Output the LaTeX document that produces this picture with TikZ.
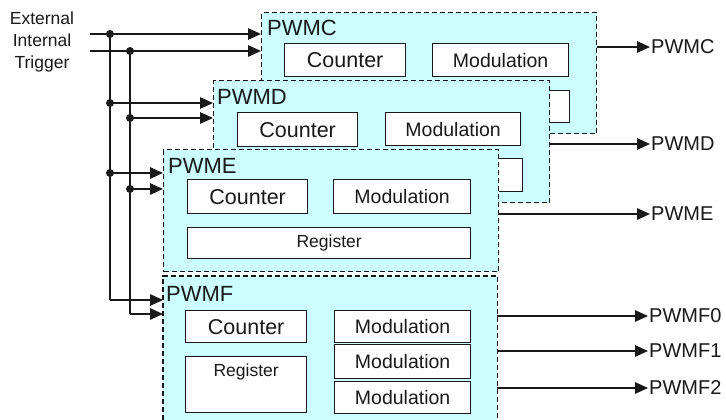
\documentclass[tikz,border=0pt]{standalone}
\usepackage{fontspec}
\setmainfont{Liberation Sans}
\usetikzlibrary{arrows.meta,calc}
\definecolor{panelfill}{RGB}{204,255,255}
\definecolor{ink}{RGB}{25,25,25}
\begin{document}
\begin{tikzpicture}[x=1pt,y=-1pt,
  panel/.style={draw=ink, dash pattern=on 5pt off 3pt, line width=1.3pt, fill=panelfill, inner sep=0pt, anchor=north west},
  dashline/.style={draw=ink, dash pattern=on 5pt off 3pt, line width=1.3pt},
  blk/.style={draw=ink, line width=1.3pt, fill=white, inner sep=0pt, anchor=north west, text=ink},
  ttl/.style={anchor=base west, inner sep=0pt, text=ink, font=\fontsize{22}{24}\selectfont},
  cnt/.style={font=\fontsize{21.5}{24}\selectfont},
  mod/.style={font=\fontsize{19.5}{22}\selectfont},
  reg/.style={font=\fontsize{17.5}{20}\selectfont},
  olbl/.style={anchor=west, inner sep=1pt, text=ink, font=\fontsize{20}{24}\selectfont},
  wire/.style={draw=ink, line width=1.4pt},
  arr/.style={wire, -{Triangle[length=13pt,width=11.5pt]}},
  dot/.style={circle, fill=ink, inner sep=0pt, minimum size=8pt}
]
\useasboundingbox (0,0) rectangle (726,420);

% ---- PWMC ----
\node[panel, minimum width=335pt, minimum height=121pt] (pC) at (261,12) {};
\node[ttl] (tC) at (267,36) {PWMC};
\node[blk, cnt, minimum width=121pt, minimum height=33pt] (cC) at (284,43) {Counter};
\node[blk, mod, minimum width=136pt, minimum height=33pt] (mC) at (432,43) {Modulation};
\node[blk, minimum width=283pt, minimum height=32pt] (rC) at (286,90) {};

% ---- PWMD ----
\node[panel, minimum width=336pt, minimum height=122pt] (pD) at (213,80) {};
\node[ttl] (tD) at (217,105) {PWMD};
\node[blk, cnt, minimum width=120pt, minimum height=34pt] (cD) at (237,112) {Counter};
\node[blk, mod, minimum width=135pt, minimum height=33pt] (mD) at (385,112) {Modulation};
\node[blk, minimum width=285pt, minimum height=33pt] (rD) at (237,158) {};

% ---- PWME ----
\node[panel, minimum width=335pt, minimum height=122pt] (pE) at (163,149) {};
\node[ttl] (tE) at (168,173) {PWME};
\node[blk, cnt, minimum width=120pt, minimum height=34pt] (cE) at (187,179) {Counter};
\node[blk, mod, minimum width=137pt, minimum height=34pt] (mE) at (333,179) {Modulation};
\node[blk, reg, minimum width=283pt, minimum height=31pt] (rE) at (187,227) {Register};

% ---- PWMF ----
\node[fill=panelfill, inner sep=0pt, anchor=north west, minimum width=334pt, minimum height=144pt] (pF) at (163,276) {};
\draw[dashline] (pF.south west) -- (pF.north west) -- (pF.north east) -- (pF.south east);
\node[ttl] (tF) at (166,301) {PWMF};
\node[blk, cnt, minimum width=121pt, minimum height=32pt] (cF) at (185,310) {Counter};
\node[blk, minimum width=121pt, minimum height=56pt] (rF) at (185,356) {};
\node[reg, text=ink, inner sep=0pt] (rFt) at ($(rF.north)+(0,16)$) {Register};
\node[blk, mod, minimum width=136pt, minimum height=32pt] (m0) at (334,310) {Modulation};
\node[blk, mod, minimum width=136pt, minimum height=34pt] (m1) at (334,344) {Modulation};
\node[blk, mod, minimum width=136pt, minimum height=32pt] (m2) at (334,381) {Modulation};

% ---- trigger inputs ----
\node[align=center, text=ink, inner sep=0pt, font=\fontsize{17.5}{22}\selectfont] (trig) at (42,42) {External\\Internal\\Trigger};
\coordinate (i1) at (90,34);
\coordinate (i2) at (90,51);
\coordinate (jC1) at (110,34);  \coordinate (jC2) at (130,51);
\coordinate (jD1) at (110,103); \coordinate (jD2) at (130,118);
\coordinate (jE1) at (110,173); \coordinate (jE2) at (130,189);
\coordinate (jF1) at (110,300); \coordinate (jF2) at (130,314);

\draw[wire] (i1) -- (jC1);
\draw[wire] (i2) -- (jC2);
\draw[wire] (jC1) -- (jF1);
\draw[wire] (jC2) -- (jF2);
\draw[arr] (jC1) -- (jC1 -| pC.west);
\draw[arr] (jC2) -- (jC2 -| pC.west);
\draw[arr] (jD1) -- (jD1 -| pD.west);
\draw[arr] (jD2) -- (jD2 -| pD.west);
\draw[arr] (jE1) -- (jE1 -| pE.west);
\draw[arr] (jE2) -- (jE2 -| pE.west);
\draw[arr] (jF1) -- (jF1 -| pF.west);
\draw[arr] (jF2) -- (jF2 -| pF.west);
\foreach \j in {jC1,jC2,jD1,jD2,jE1,jE2}{\node[dot] at (\j) {};}

% ---- outputs ----
\node[olbl] (oC) at (650,47) {PWMC};
\node[olbl] (oD) at (650,144) {PWMD};
\node[olbl] (oE) at (650,214) {PWME};
\node[olbl] (oF0) at (648,316) {PWMF0};
\node[olbl] (oF1) at (648,351) {PWMF1};
\node[olbl] (oF2) at (648,388) {PWMF2};
\draw[arr] (oC -| pC.east) -- (oC.west);
\draw[arr] (oD -| pD.east) -- (oD.west);
\draw[arr] (oE -| pE.east) -- (oE.west);
\draw[arr] (oF0 -| pF.east) -- (oF0.west);
\draw[arr] (oF1 -| pF.east) -- (oF1.west);
\draw[arr] (oF2 -| pF.east) -- (oF2.west);
\end{tikzpicture}
\end{document}
